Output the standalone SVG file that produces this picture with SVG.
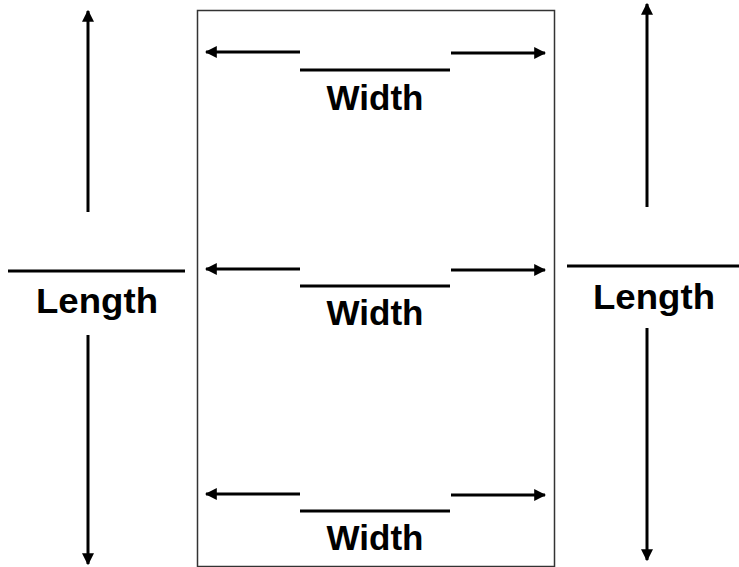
<svg xmlns="http://www.w3.org/2000/svg" width="739" height="567" viewBox="0 0 739 567">
<defs>
<marker id="ah" viewBox="0 0 10 10" refX="9" refY="5" markerWidth="4" markerHeight="4" orient="auto" markerUnits="strokeWidth">
<path d="M0,0 L10,5 L0,10 z" fill="#000"/>
</marker>
<style>
.ln{stroke:#000;stroke-width:3;fill:none}
.ar{stroke:#000;stroke-width:3;fill:none;marker-end:url(#ah)}
.t{font-family:"Liberation Sans",Arial,sans-serif;font-weight:bold;font-size:35px;fill:#000;text-anchor:middle}
</style>
</defs>
<rect width="739" height="567" fill="#fff"/>
<g id="box"><rect x="197.5" y="10.5" width="357" height="556" fill="none" stroke="#333" stroke-width="1.5"/></g>
<g id="connectors">
<line class="ar" x1="88" y1="212" x2="88" y2="11"/>
<line class="ar" x1="88" y1="335" x2="88" y2="564"/>
<line class="ar" x1="647" y1="207" x2="647" y2="4"/>
<line class="ar" x1="647" y1="328" x2="647" y2="560"/>
<line class="ar" x1="300" y1="52" x2="206" y2="52"/>
<line class="ar" x1="451" y1="53" x2="545" y2="53"/>
<line class="ar" x1="300" y1="269" x2="206" y2="269"/>
<line class="ar" x1="451" y1="270" x2="545" y2="270"/>
<line class="ar" x1="300" y1="494" x2="206" y2="494"/>
<line class="ar" x1="451" y1="495" x2="545" y2="495"/>
</g>
<g id="length-left"><line class="ln" x1="8" y1="271" x2="185" y2="271"/><text class="t" x="97" y="313" textLength="122" lengthAdjust="spacingAndGlyphs">Length</text></g>
<g id="length-right"><line class="ln" x1="567" y1="266" x2="739" y2="266"/><text class="t" x="654" y="309" textLength="122" lengthAdjust="spacingAndGlyphs">Length</text></g>
<g id="width-top"><line class="ln" x1="300" y1="70" x2="450" y2="70"/><text class="t" x="375" y="110" textLength="97" lengthAdjust="spacingAndGlyphs">Width</text></g>
<g id="width-mid"><line class="ln" x1="300" y1="286" x2="450" y2="286"/><text class="t" x="375" y="325" textLength="97" lengthAdjust="spacingAndGlyphs">Width</text></g>
<g id="width-bot"><line class="ln" x1="300" y1="511" x2="450" y2="511"/><text class="t" x="375" y="550" textLength="97" lengthAdjust="spacingAndGlyphs">Width</text></g>
</svg>
